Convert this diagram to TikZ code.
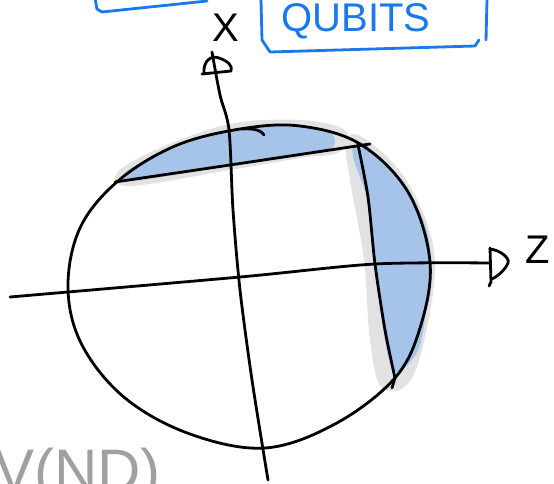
\documentclass[tikz,border=0pt]{standalone}
\usepackage{fontspec}
\setmainfont{Liberation Sans}
\definecolor{inkblue}{RGB}{25,120,235}
\definecolor{fillblue}{RGB}{166,196,234}
\definecolor{halo}{RGB}{226,226,226}
\definecolor{pencil}{RGB}{160,160,160}
\tikzset{
  ink/.style={line width=2.8pt, line cap=round, line join=round, black},
  blueink/.style={line width=2.8pt, line cap=round, line join=round, inkblue},
  lbl/.style={inner sep=0pt, font=\fontsize{40}{40}\selectfont},
}
\begin{document}
\begin{tikzpicture}[x=1pt,y=-1pt]
\useasboundingbox (0,0) rectangle (554,483);
\clip (0,0) rectangle (554,483);
% highlight halos
\fill[halo] plot[smooth cycle, tension=0.6] coordinates {(118,172) (160,148) (230,124) (300,120) (345,130) (340,152) (300,158) (230,170) (130,186)};
\fill[halo] plot[smooth cycle, tension=0.6] coordinates {(346,140) (364,138) (405,178) (432,240) (432,300) (412,378) (382,388) (370,340) (364,260) (350,180)};
% blue fills
\fill[fillblue] plot[smooth cycle, tension=0.6] coordinates {(126,172) (165,152) (230,130) (300,126) (332,134) (330,150) (300,154) (230,165) (132,181)};
\fill[fillblue] plot[smooth cycle, tension=0.6] coordinates {(354,146) (364,144) (400,178) (420,212) (430,250) (426,310) (418,350) (398,372) (388,356) (378,290) (370,210) (354,160)};
% sphere
\draw[ink] plot[smooth cycle, tension=0.6] coordinates {(68,288) (80,228) (118,181) (175,146) (240,129) (300,126) (360,144) (408,192) (430,262) (420,328) (394,379) (335,424) (265,448) (190,434) (125,398) (82,345)};
\draw[ink] (242,129) .. controls (255,128) and (262,131) .. (264,135);
% chords
\coordinate (cl) at (115,182);
\coordinate (cr) at (370,144);
\coordinate (cb) at (392,388);
\draw[ink] (cl) -- (230,165) -- (cr);
\draw[ink] plot[smooth, tension=0.5] coordinates {(358,145) (368,197) (375,264) (385,330) (395,378)} -- (cb);
% Z axis
\draw[ink] plot[smooth, tension=0.5] coordinates {(10,297) (240,277) (375,264) (490,263)};
\draw[ink] (490,248) -- (491,282) -- (489,286);
\draw[ink] (490,249) .. controls (500,250) and (510,258) .. (508,263) .. controls (505,270) and (498,276) .. (492,279);
\node[lbl] (zl) at (538,250) {Z};
% X axis
\draw[ink] plot[smooth, tension=0.5] coordinates {(268,480) (252,380) (240,290) (233,210) (229,130) (220,95) (212,52)};
\draw[ink] (202,74) -- (231,71);
\draw[ink] (204,73) .. controls (203,60) and (212,55) .. (219,58) .. controls (228,61) and (233,66) .. (231,71);
\node[lbl] (xl) at (226,28) {X};
% QUBITS box
\draw[blueink] (261,0) -- (262,40) -- (270,52) -- (475,46) -- (479,40);
\draw[blueink] (487,0) -- (486,40);
\node[lbl, text=inkblue] (qb) at (356,21) {QUBITS};
% partial box top-left
\draw[blueink] (95,-2) -- (97,9) -- (102,12) -- (207,1);
% pencil note bottom-left
\node[lbl, text=pencil, anchor=north west, font=\fontsize{60}{60}\selectfont] (nd) at (-6,448) {V(ND)};
\end{tikzpicture}
\end{document}
